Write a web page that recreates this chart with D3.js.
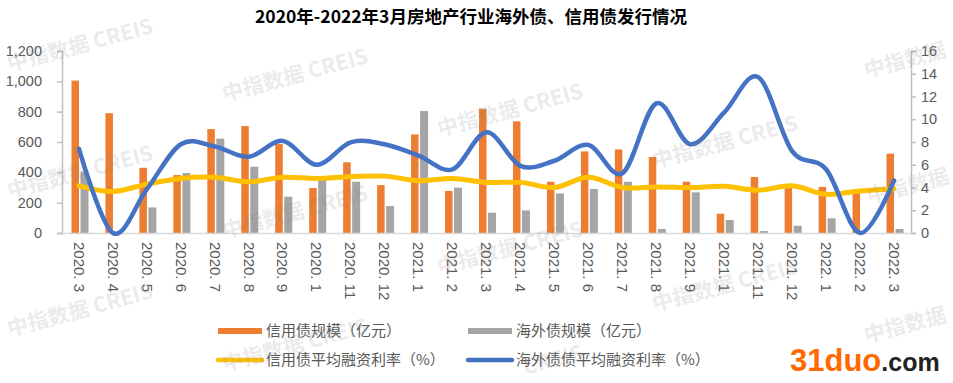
<!DOCTYPE html>
<html>
<head>
<meta charset="utf-8">
<script src="https://cdn.jsdelivr.net/npm/d3@7"></script>
<style>
html,body{margin:0;padding:0;background:#fff;}
svg{display:block;}
</style>
</head>
<body>
<svg id="chart" width="953" height="383"></svg>
<script>
const categories = ["2020. 3","2020. 4","2020. 5","2020. 6","2020. 7","2020. 8","2020. 9","2020. 1","2020. 11","2020. 12","2021. 1","2021. 2","2021. 3","2021. 4","2021. 5","2021. 6","2021. 7","2021. 8","2021. 9","2021. 1","2021. 11","2021. 12","2022. 1","2022. 2","2022. 3"];
const creditScale = [1005, 790, 430, 382, 685, 705, 586, 297, 466, 316, 650, 277, 819, 736, 338, 538, 551, 501, 338, 127, 369, 304, 304, 278, 523];
const overseasScale = [404, 0, 169, 395, 622, 437, 239, 371, 338, 178, 804, 299, 134, 149, 261, 290, 338, 26, 268, 86, 13, 48, 97, 0, 26];
const creditRate = [4.15, 3.65, 4.3, 4.8, 4.9, 4.5, 4.9, 4.8, 4.95, 5.0, 4.6, 4.8, 4.45, 4.45, 4.0, 4.9, 4.0, 4.05, 4.0, 4.1, 3.75, 4.15, 3.4, 3.7, 3.9];
const overseasRate = [7.4, 0, 3.85, 7.8, 7.6, 6.7, 8.1, 6.0, 7.97, 7.8, 6.8, 5.6, 8.85, 5.9, 6.35, 7.75, 5.25, 11.4, 7.8, 10.6, 13.7, 7.2, 5.6, 0, 4.6];
const leftTicks = [0, 200, 400, 600, 800, 1000, 1200];
const rightTicks = [0, 2, 4, 6, 8, 10, 12, 14, 16];
const title = "2020年-2022年3月房地产行业海外债、信用债发行情况";
const legendLabels = ["信用债规模（亿元）", "海外债规模（亿元）", "信用债平均融资利率（%）", "海外债债平均融资利率（%）"];
const watermarkTexts = ["中指数据 CREIS", "中指数据", "CREIS"];

const C_ORANGE = "#ED7D31", C_GRAY = "#A5A5A5", C_YELLOW = "#FFC000", C_BLUE = "#4472C4";
const TXT = "#595959", AXIS = "#BFBFBF";
const FONT = "'Noto Sans CJK SC','Noto Sans',sans-serif";
const NUMFONT = "'Liberation Sans','Noto Sans',sans-serif";

const svg = d3.select("#chart");
const L = 62, R = 911, T = 51, B = 233;

const x = d3.scaleBand().domain(d3.range(categories.length)).range([L, R]).padding(0);
const yL = d3.scaleLinear().domain([0, 1200]).range([B, T]);
const yR = d3.scaleLinear().domain([0, 16]).range([B, T]);

// Title
svg.append("text").attr("x", 471).attr("y", 23).attr("text-anchor", "middle")
  .attr("font-family", FONT).attr("font-weight", "bold").attr("font-size", 17.5)
  .attr("fill", "#000").text(title);

// Left axis
const gL = svg.append("g").attr("transform", `translate(${L},0)`)
  .call(d3.axisLeft(yL).tickValues(leftTicks).tickSize(5).tickPadding(15).tickFormat(d3.format(",")));
gL.select(".domain").attr("stroke", AXIS).attr("stroke-width", 1.5);
gL.selectAll(".tick line").attr("stroke", AXIS).attr("stroke-width", 1.5);
gL.selectAll(".tick text").attr("fill", TXT).attr("font-family", NUMFONT).attr("font-size", 14.5);

// Right axis
const gR = svg.append("g").attr("transform", `translate(${R},0)`)
  .call(d3.axisRight(yR).tickValues(rightTicks).tickSize(5).tickPadding(5));
gR.select(".domain").attr("stroke", AXIS).attr("stroke-width", 1.5);
gR.selectAll(".tick line").attr("stroke", AXIS).attr("stroke-width", 1.5);
gR.selectAll(".tick text").attr("fill", TXT).attr("font-family", NUMFONT).attr("font-size", 14.5);

// Bars
const bw = x.bandwidth();
svg.append("g").selectAll("rect.c").data(creditScale).join("rect")
  .attr("x", (d, i) => x(i) + bw / 2 - 7.5).attr("width", 7.5)
  .attr("y", d => yL(d)).attr("height", d => B - yL(d)).attr("fill", C_ORANGE);
svg.append("g").selectAll("rect.o").data(overseasScale).join("rect")
  .attr("x", (d, i) => x(i) + bw / 2 + 1.5).attr("width", 8)
  .attr("y", d => yL(d)).attr("height", d => B - yL(d)).attr("fill", C_GRAY);

// X axis
const gX = svg.append("g").attr("transform", `translate(0,${B})`)
  .call(d3.axisBottom(x).tickSize(0).tickFormat(i => categories[i]));
gX.select(".domain").attr("stroke", "#D9D9D9").attr("stroke-width", 1.5);
gX.selectAll(".tick text")
  .attr("font-family", NUMFONT).attr("font-size", 15).attr("fill", TXT)
  .attr("transform", "rotate(90)").attr("text-anchor", "start")
  .attr("x", 9).attr("y", 0).attr("dy", "0.35em");

// Lines
const lineC = d3.line().x((d, i) => x(i) + bw / 2).y(d => yR(d)).curve(d3.curveCardinal.tension(0));
svg.append("path").datum(creditRate).attr("d", lineC).attr("fill", "none")
  .attr("stroke", C_YELLOW).attr("stroke-width", 5).attr("stroke-linecap", "round");
svg.append("path").datum(overseasRate).attr("d", lineC).attr("fill", "none")
  .attr("stroke", C_BLUE).attr("stroke-width", 4.5).attr("stroke-linecap", "round");

// Legend
const legend = [
  {x: 218, y: 331, type: "bar", color: C_ORANGE, label: legendLabels[0]},
  {x: 468, y: 331, type: "bar", color: C_GRAY, label: legendLabels[1]},
  {x: 218, y: 360, type: "line", color: C_YELLOW, label: legendLabels[2]},
  {x: 468, y: 360, type: "line", color: C_BLUE, label: legendLabels[3]}
];
const lg = svg.append("g");
legend.forEach(d => {
  if (d.type === "bar") {
    lg.append("rect").attr("x", d.x).attr("y", d.y - 3).attr("width", 44).attr("height", 6).attr("fill", d.color);
  } else {
    lg.append("line").attr("x1", d.x).attr("x2", d.x + 44).attr("y1", d.y).attr("y2", d.y)
      .attr("stroke", d.color).attr("stroke-width", 4.5).attr("stroke-linecap", "round");
  }
  lg.append("text").attr("x", d.x + 48).attr("y", d.y).attr("dy", "0.35em")
    .attr("font-family", FONT).attr("font-size", 15).attr("fill", TXT).text(d.label);
});

// Watermarks
const wmPos = [[80, 45, 0], [80, 172, 0], [80, 310, 0], [295, 75, 0], [295, 212, 0], [295, 345, 0], [510, 110, 0], [510, 248, 0], [553, 360, 2],
  [725, 142, 0], [725, 285, 0], [905, 60, 1], [908, 186, 1], [905, 325, 1]];
const wm = svg.append("g").attr("pointer-events", "none");
wmPos.forEach(p => {
  wm.append("text").attr("transform", `translate(${p[0]},${p[1]}) rotate(-15)`)
    .attr("text-anchor", "middle").attr("dy", "0.35em")
    .attr("font-family", FONT).attr("font-weight", "bold").attr("font-size", 21)
    .attr("fill", "#808080").attr("fill-opacity", 0.18).text(watermarkTexts[p[2]]);
});

// Site logo
const logo = svg.append("text").attr("x", 790).attr("y", 371)
  .attr("font-family", NUMFONT).attr("font-weight", "bold");
logo.append("tspan").attr("font-size", 31).attr("fill", "#FF6A00").text("31duo");
logo.append("tspan").attr("font-size", 25).attr("fill", "#222").text(".com");
</script>
</body>
</html>
